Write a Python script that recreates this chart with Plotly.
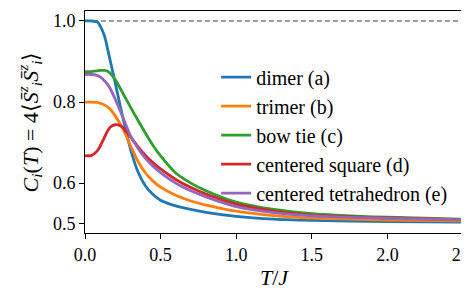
import plotly.graph_objects as go

T = [0.0, 0.04, 0.08, 0.1, 0.13, 0.15, 0.17, 0.2, 0.23, 0.25, 0.3, 0.35, 0.4, 0.45, 0.5,
     0.6, 0.7, 0.8, 1.0, 1.25, 1.5, 2.0, 2.5]

dimer = [1.0, 1.0, 0.998, 0.988, 0.962, 0.93, 0.897, 0.847, 0.795, 0.762, 0.685, 0.628, 0.593,
         0.572, 0.558, 0.544, 0.535, 0.528, 0.518, 0.511, 0.508, 0.505, 0.504]
trimer = [0.8, 0.8, 0.799, 0.797, 0.793, 0.788, 0.781, 0.766, 0.748, 0.735, 0.693, 0.654, 0.625,
          0.605, 0.59, 0.570, 0.556, 0.546, 0.531, 0.520, 0.514, 0.509, 0.507]
bowtie = [0.875, 0.875, 0.877, 0.878, 0.878, 0.876, 0.87, 0.855, 0.836, 0.822, 0.788, 0.755, 0.723,
          0.693, 0.667, 0.625, 0.600, 0.581, 0.553, 0.535, 0.525, 0.516, 0.511]
csquare = [0.668, 0.668, 0.679, 0.691, 0.714, 0.729, 0.739, 0.744, 0.742, 0.737, 0.715, 0.69, 0.668,
           0.650, 0.635, 0.609, 0.589, 0.573, 0.548, 0.531, 0.521, 0.514, 0.510]
ctetra = [0.868, 0.868, 0.866, 0.862, 0.852, 0.843, 0.831, 0.807, 0.781, 0.763, 0.718, 0.686, 0.661,
          0.642, 0.626, 0.600, 0.581, 0.566, 0.542, 0.527, 0.519, 0.513, 0.510]

names = ["dimer (a)", "trimer (b)", "bow tie (c)", "centered square (d)", "centered tetrahedron (e)"]
series = [dimer, trimer, bowtie, csquare, ctetra]
colors = ["#1f77b4", "#ff7f0e", "#2ca02c", "#d62728", "#9467bd"]

xticks = [0.0, 0.5, 1.0, 1.5, 2.0, 2.5]
yticks = [0.5, 0.6, 0.8, 1.0]

FONT = "Liberation Serif"

fig = go.Figure()
for nm, ys, c in zip(names, series, colors):
    fig.add_trace(go.Scatter(x=T, y=ys, mode="lines", name=nm,
                             line=dict(color=c, width=2.8, shape="spline", smoothing=0.6)))
fig.add_shape(type="line", xref="paper", yref="y", x0=0, x1=1, y0=1.0, y1=1.0,
              line=dict(color="#808080", dash="5px,3px", width=1.5), layer="below")

fig.update_layout(font=dict(family=FONT, size=18, color="black"))
fig.update_xaxes(range=[0, 2.5], tickmode="array", tickvals=xticks,
                 ticktext=[f"{v:.1f}" for v in xticks],
                 showline=True, linecolor="black", linewidth=1, mirror=True,
                 ticks="outside", ticklen=5, tickcolor="black", showgrid=False, zeroline=False,
                 tickfont=dict(family=FONT, size=18),
                 title=dict(text="<i>T</i>/<i>J</i>", font=dict(family=FONT, size=22), standoff=6))
fig.update_yaxes(range=[0.477, 1.0246], tickmode="array", tickvals=yticks,
                 ticktext=[f"{v:.1f}" for v in yticks],
                 showline=True, linecolor="black", linewidth=1, mirror=True,
                 ticks="outside", ticklen=5, tickcolor="black", showgrid=False, zeroline=False,
                 tickfont=dict(family=FONT, size=18),
                 title=dict(text="<i>C<sub>i</sub></i>(<i>T</i>) = 4⟨<i>S\u0304</i><sup><i>z</i></sup><sub><i>i</i></sub><i>S\u0304</i><sup><i>z</i></sup><sub><i>i</i></sub>⟩",
                            font=dict(family=FONT, size=22), standoff=8))
fig.update_layout(width=469, height=290, margin=dict(l=77, r=14, t=3, b=65),
                  plot_bgcolor="white", paper_bgcolor="white", showlegend=True,
                  legend=dict(x=0.347, y=0.79, xanchor="left", yanchor="top",
                              bgcolor="rgba(0,0,0,0)", traceorder="normal",
                              font=dict(family=FONT, size=20)))
fig.write_html("out.html")
